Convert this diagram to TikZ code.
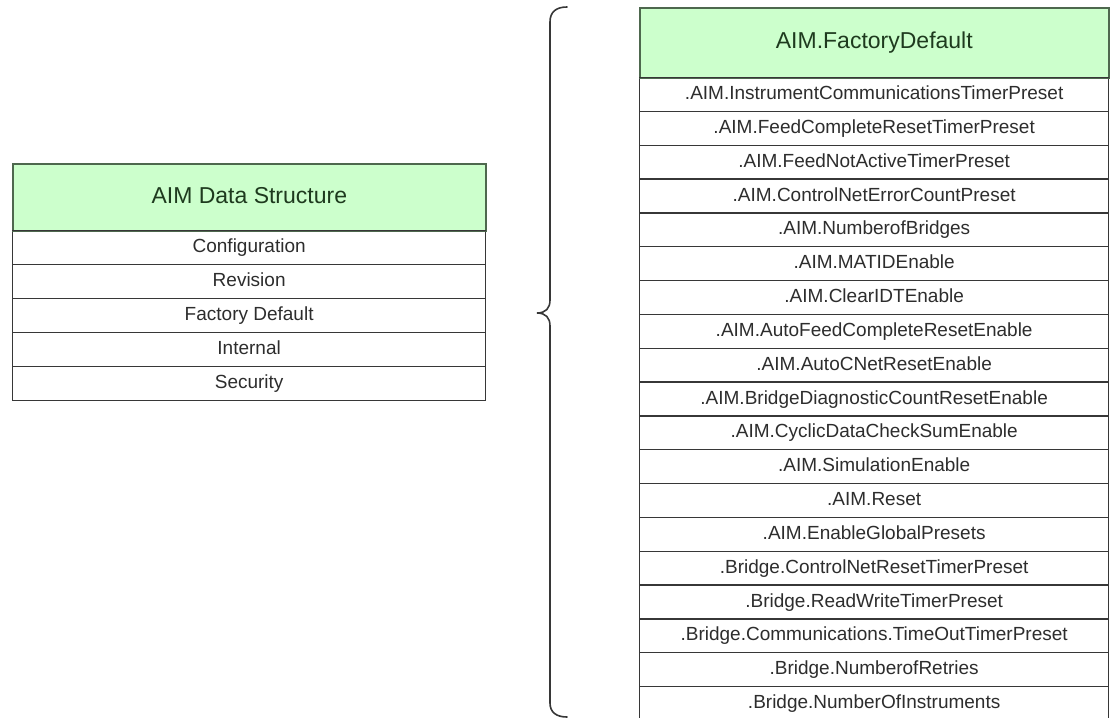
\documentclass[tikz,border=0pt]{standalone}
\usepackage{fontspec}
\setmainfont{Liberation Sans}
\definecolor{headfill}{RGB}{204,255,204}
\definecolor{headline}{RGB}{78,104,78}
\definecolor{headtext}{RGB}{30,58,30}
\definecolor{celltext}{RGB}{45,45,45}
\definecolor{cellline}{RGB}{55,55,55}
\begin{document}
\begin{tikzpicture}[x=1pt,y=-1pt,
  cellbox/.style={draw=cellline,line width=1.3pt,fill=white,rectangle,inner sep=0pt,
    anchor=north west,text=celltext,font=\fontsize{19}{22}\selectfont,
    text height=14pt,text depth=4pt},
  headbox/.style={draw=headline,line width=1.6pt,fill=headfill,rectangle,inner sep=0pt,
    anchor=north west,text=headtext,font=\fontsize{23}{27}\selectfont,
    text height=17pt,text depth=5pt},
  bracepath/.style={draw=cellline,line width=1.6pt,line cap=round}]
\useasboundingbox (0,0) rectangle (1110,717);
\clip (0,0) rectangle (1110,717);

% left table: AIM data structure
\node[headbox,minimum width=473pt,minimum height=67pt] (lhead) at (12,163) {AIM Data Structure};
\foreach \t [count=\i] in {Configuration,Revision,Factory Default,Internal,Security}{
  \node[cellbox,minimum width=473pt,minimum height=34pt] (l\i) at (12,{230+34*(\i-1)}) {\t};
}
\draw[headline,line width=1.6pt] (lhead.south west) -- (lhead.south east);

% right table: factory default members
\node[headbox,minimum width=469pt,minimum height=70pt] (rhead) at (639,7) {AIM.FactoryDefault};
\foreach \t [count=\i] in {
  .AIM.InstrumentCommunicationsTimerPreset,
  .AIM.FeedCompleteResetTimerPreset,
  .AIM.FeedNotActiveTimerPreset,
  .AIM.ControlNetErrorCountPreset,
  .AIM.NumberofBridges,
  .AIM.MATIDEnable,
  .AIM.ClearIDTEnable,
  .AIM.AutoFeedCompleteResetEnable,
  .AIM.AutoCNetResetEnable,
  .AIM.BridgeDiagnosticCountResetEnable,
  .AIM.CyclicDataCheckSumEnable,
  .AIM.SimulationEnable,
  .AIM.Reset,
  .AIM.EnableGlobalPresets,
  .Bridge.ControlNetResetTimerPreset,
  .Bridge.ReadWriteTimerPreset,
  .Bridge.Communications.TimeOutTimerPreset,
  .Bridge.NumberofRetries,
  .Bridge.NumberOfInstruments}{
  \node[cellbox,minimum width=469pt,minimum height=33.83pt] (r\i) at (639,{77+33.83*(\i-1)}) {\t};
}
\draw[headline,line width=1.6pt] (rhead.south west) -- (rhead.south east);

% brace pointing at the Factory Default row
\coordinate (btop) at (567,7);
\coordinate (btip) at (537,313);
\coordinate (bbot) at (567,717);
\draw[bracepath] (btop) .. controls (556,7) and (550,12) .. (550,22)
  -- (550,300) .. controls (550,308) and (546,313) .. (btip)
  .. controls (546,313) and (550,318) .. (550,326)
  -- (550,703) .. controls (550,712) and (556,717) .. (bbot);
\end{tikzpicture}
\end{document}
